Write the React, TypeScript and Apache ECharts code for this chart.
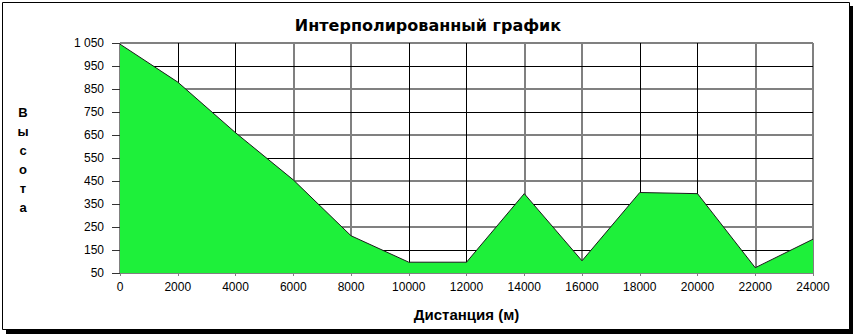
import React, { useEffect, useRef } from "react";
import * as echarts from "echarts";

const TITLE = "Интерполированный график";
const X_NAME = "Дистанция (м)";
const Y_NAME = "Высота";
const distances = [0, 2000, 4000, 6000, 8000, 10000, 12000, 14000, 16000, 18000, 20000, 22000, 24000];
const heights = [1045, 880, 660, 455, 212, 97, 97, 395, 103, 400, 395, 73, 197];

const FONT = "'Liberation Sans', Arial, sans-serif";
const WIDE = "'DejaVu Sans', Verdana, sans-serif";
const NONE = "rgba(0,0,0,0)";
const GRAY = "#808080";

export default function App() {
  const ref = useRef<HTMLDivElement>(null);
  useEffect(() => {
    if (!ref.current) return;
    const chart = echarts.init(ref.current, undefined, { renderer: "svg" });
    const baseX = { type: "value", min: 0, max: 24000, interval: 2000 };
    const baseY = { type: "value", min: 50, max: 1050, interval: 100 };
    chart.setOption({
      animation: false,
      backgroundColor: "#ffffff",
      title: {
        text: TITLE,
        left: "center",
        top: 12,
        textStyle: { fontFamily: WIDE, fontSize: 16, fontWeight: "bold", color: "#000" },
      },
      graphic: [
        { type: "rect", z: -10, shape: { x: 6, y: 6, width: 847, height: 328 }, style: { fill: "#000" } },
        { type: "rect", z: -9, shape: { x: 2.5, y: 2.5, width: 847, height: 327 }, style: { fill: "#fff", stroke: "#000", lineWidth: 1 } },
        {
          type: "text",
          z: 10,
          style: {
            text: Y_NAME.split("").join("\n"),
            x: 23,
            y: 160,
            align: "center",
            verticalAlign: "middle",
            lineHeight: 19,
            font: `bold 13px ${FONT}`,
            fill: "#000",
          },
        },
      ],
      grid: { left: 120, right: 43, top: 43, bottom: 63 },
      xAxis: [
        {
          ...baseX,
          name: X_NAME,
          nameLocation: "middle",
          nameGap: 34,
          nameTextStyle: { fontFamily: FONT, fontSize: 15, fontWeight: "bold", color: "#000" },
          axisLine: { show: true, lineStyle: { color: GRAY, width: 1 } },
          axisTick: { show: true, length: 3, lineStyle: { color: GRAY } },
          axisLabel: { fontFamily: FONT, fontSize: 12, color: "#000", margin: 8, formatter: (v: number) => String(v) },
          splitLine: { show: true, lineStyle: { color: [NONE, "#000", "#000", NONE], width: 1 } },
          z: 4,
        },
        {
          ...baseX,
          position: "top",
          axisLine: { show: false },
          axisTick: { show: false },
          axisLabel: { show: false },
          splitLine: { show: true, lineStyle: { color: [GRAY, NONE, NONE, GRAY], width: 2 } },
        },
      ],
      yAxis: [
        {
          ...baseY,
          axisLine: { show: true, lineStyle: { color: GRAY, width: 1 } },
          axisTick: { show: true, length: 8, lineStyle: { color: "#333" } },
          axisLabel: {
            fontFamily: FONT,
            fontSize: 12,
            color: "#000",
            margin: 16,
            formatter: (v: number) => (v >= 1000 ? `${Math.floor(v / 1000)} ${String(v % 1000).padStart(3, "0")}` : String(v)),
          },
          splitLine: { show: true, lineStyle: { color: [NONE, "#000"], width: 1 } },
          z: 4,
        },
        {
          ...baseY,
          position: "right",
          axisLine: { show: false },
          axisTick: { show: false },
          axisLabel: { show: false },
          splitLine: { show: true, lineStyle: { color: [GRAY, NONE], width: 2 } },
        },
      ],
      series: [
        {
          type: "line",
          xAxisIndex: 0,
          yAxisIndex: 0,
          data: distances.map((d, i) => [d, heights[i]]),
          symbol: "none",
          lineStyle: { color: "#1a1a1a", width: 1 },
          areaStyle: { color: "#1EF03A", opacity: 1 },
          z: 5,
        },
      ],
    });
    return () => chart.dispose();
  }, []);
  return <div ref={ref} style={{ position: "absolute", left: 0, top: 0, width: 856, height: 336 }} />;
}
